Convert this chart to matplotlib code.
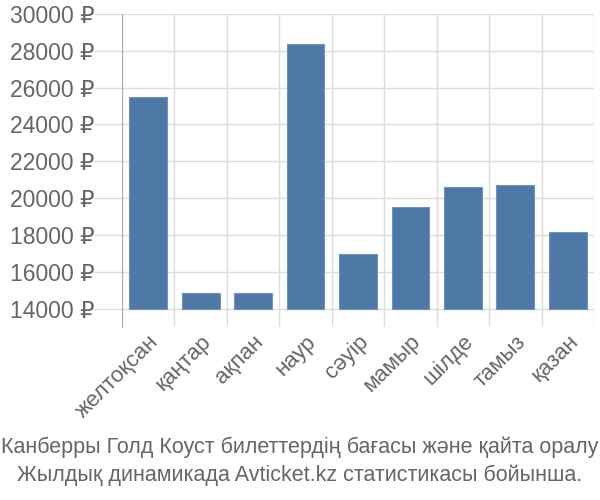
import matplotlib
matplotlib.use('Agg')
import matplotlib.pyplot as plt
import numpy as np

months = ['желтоқсан', 'қаңтар', 'ақпан', 'наур', 'сәуір', 'мамыр', 'шілде', 'тамыз', 'қазан']
prices = [25480, 14850, 14850, 28370, 16940, 19500, 20590, 20690, 18140]
yticks = [14000, 16000, 18000, 20000, 22000, 24000, 26000, 28000, 30000]
caption = ['Канберры Голд Коуст билеттердің бағасы және қайта оралу',
           'Жылдық динамикада Avticket.kz статистикасы бойынша.']

plt.rcParams['font.family'] = ['Liberation Sans', 'DejaVu Sans']

fig = plt.figure(figsize=(6, 5), dpi=100)
ax = fig.add_axes([0.2033, 0.346, 0.7867, 0.626])

x = np.arange(len(months))
base = 14000
ax.bar(x, np.array(prices) - base, bottom=base, width=0.72, color='#4e79a7',
       edgecolor='#6f93bd', linewidth=0.8, zorder=3)

ax.set_xlim(-0.5, len(months) - 0.5)
ax.set_ylim(13000, 30000)
ax.set_yticks(yticks)
ax.set_yticklabels(['%d ₽' % v for v in yticks])
ax.set_xticks(x)
ax.set_xticklabels(months, rotation=45, ha='right', rotation_mode='anchor')

# category boundaries as vertical grid lines
for b in np.arange(-0.5, len(months)):
    ax.axvline(b, color='#dddddd', linewidth=1, zorder=1)
for v in yticks:
    ax.axhline(v, color='#dddddd', linewidth=1, zorder=1)

for s in ['top', 'right', 'bottom']:
    ax.spines[s].set_visible(False)
ax.spines['left'].set_color('#aaaaaa')
ax.spines['left'].set_zorder(4)

ax.tick_params(axis='y', length=20, color='#dddddd', width=1, pad=0,
               labelsize=16.5, labelcolor='#666666')
ax.tick_params(axis='x', length=0, pad=3, labelsize=16, labelcolor='#666666')

fig.text(0.5, 0.105, caption[0], ha='center', va='center', fontsize=15.5,
         color='#666666')
fig.text(0.5, 0.05, caption[1], ha='center', va='center', fontsize=15.5,
         color='#666666')

fig.savefig('out.png', dpi=100)
